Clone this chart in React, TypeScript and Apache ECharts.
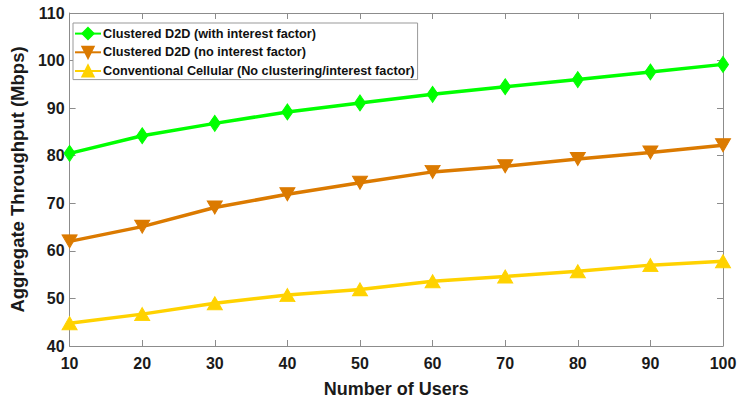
import React, { useEffect, useRef } from "react";
import * as echarts from "echarts";

const users = [10, 20, 30, 40, 50, 60, 70, 80, 90, 100];
const withInterest = [80.5, 84.2, 86.8, 89.2, 91.1, 92.9, 94.5, 96.0, 97.6, 99.2];
const noInterest = [62.0, 65.1, 69.1, 71.9, 74.3, 76.6, 77.8, 79.3, 80.7, 82.2];
const conventional = [44.8, 46.7, 49.0, 50.7, 51.9, 53.6, 54.6, 55.7, 57.0, 57.8];
const seriesNames = [
  "Clustered D2D (with interest factor)",
  "Clustered D2D (no interest factor)",
  "Conventional Cellular (No clustering/interest factor)",
];

const TICK_FONT = "'Liberation Sans', Arial, sans-serif";
const TITLE_FONT = "'Liberation Sans', Arial, sans-serif";

export default function App() {
  const ref = useRef<HTMLDivElement>(null);
  useEffect(() => {
    document.body.style.margin = "0";
    if (!ref.current) return;
    const chart = echarts.init(ref.current, undefined, { renderer: "svg" });
    const pairs = (ys: number[]) => users.map((u, i) => [u, ys[i]]);
    const axisLineColor = "#8c8c8c";
    const mk = (name: string, ys: number[], color: string, symbol: string, size: number[], rot = 0) => ({
      name,
      type: "line",
      data: pairs(ys),
      symbol,
      symbolSize: size,
      symbolRotate: rot,
      showAllSymbol: true,
      lineStyle: { color, width: 3.5 },
      itemStyle: { color, borderColor: color, borderWidth: 1 },
      emphasis: { disabled: true },
    });
    chart.setOption({
      animation: false,
      grid: { left: 67, right: 22, top: 13, bottom: 60, show: false },
      legend: {
        orient: "vertical",
        left: 73,
        top: 23,
        padding: [4, 3, 2, 1],
        itemGap: 5.5,
        itemWidth: 26,
        itemHeight: 14,
        backgroundColor: "#fff",
        borderColor: "#999",
        borderWidth: 1,
        borderRadius: 0,
        textStyle: { fontFamily: TICK_FONT, fontWeight: "bold", fontSize: 12.7, color: "#111", padding: [0, 0, 0, -3] },
        data: seriesNames,
      },
      xAxis: [
        {
          type: "value",
          min: 10,
          max: 100,
          interval: 10,
          name: "Number of Users",
          nameLocation: "middle",
          nameGap: 34,
          nameTextStyle: { fontFamily: TITLE_FONT, fontWeight: "bold", fontSize: 18, color: "#1a1a1a" },
          axisLine: { show: true, lineStyle: { color: axisLineColor, width: 1 } },
          axisTick: { show: true, inside: true, length: 6, lineStyle: { color: axisLineColor } },
          axisLabel: { margin: 9, fontFamily: TICK_FONT, fontWeight: "bold", fontSize: 16, color: "#1a1a1a" },
          splitLine: { show: false },
        },
        {
          type: "value",
          position: "top",
          min: 10,
          max: 100,
          interval: 10,
          axisLine: { show: true, lineStyle: { color: axisLineColor, width: 1 } },
          axisTick: { show: true, inside: true, length: 6, lineStyle: { color: axisLineColor } },
          axisLabel: { show: false },
          splitLine: { show: false },
        },
      ],
      yAxis: [
        {
          type: "value",
          min: 40,
          max: 110,
          interval: 10,
          name: "Aggregate Throughput (Mbps)",
          nameLocation: "middle",
          nameGap: 36,
          nameTextStyle: { fontFamily: TITLE_FONT, fontWeight: "bold", fontSize: 18.5, color: "#1a1a1a" },
          axisLine: { show: true, lineStyle: { color: axisLineColor, width: 1 } },
          axisTick: { show: true, inside: true, length: 6, lineStyle: { color: axisLineColor } },
          axisLabel: { margin: 5, fontFamily: TICK_FONT, fontWeight: "bold", fontSize: 16, color: "#1a1a1a" },
          splitLine: { show: false },
        },
        {
          type: "value",
          position: "right",
          min: 40,
          max: 110,
          interval: 10,
          axisLine: { show: true, lineStyle: { color: axisLineColor, width: 1 } },
          axisTick: { show: true, inside: true, length: 6, lineStyle: { color: axisLineColor } },
          axisLabel: { show: false },
          splitLine: { show: false },
        },
      ],
      series: [
        mk(seriesNames[0], withInterest, "#00ff00", "diamond", [11, 16]),
        mk(seriesNames[1], noInterest, "#db7a00", "triangle", [15, 13], 180),
        mk(seriesNames[2], conventional, "#ffd200", "triangle", [15, 13]),
      ],
    });
    return () => chart.dispose();
  }, []);
  return <div ref={ref} style={{ width: 745, height: 406 }} />;
}
